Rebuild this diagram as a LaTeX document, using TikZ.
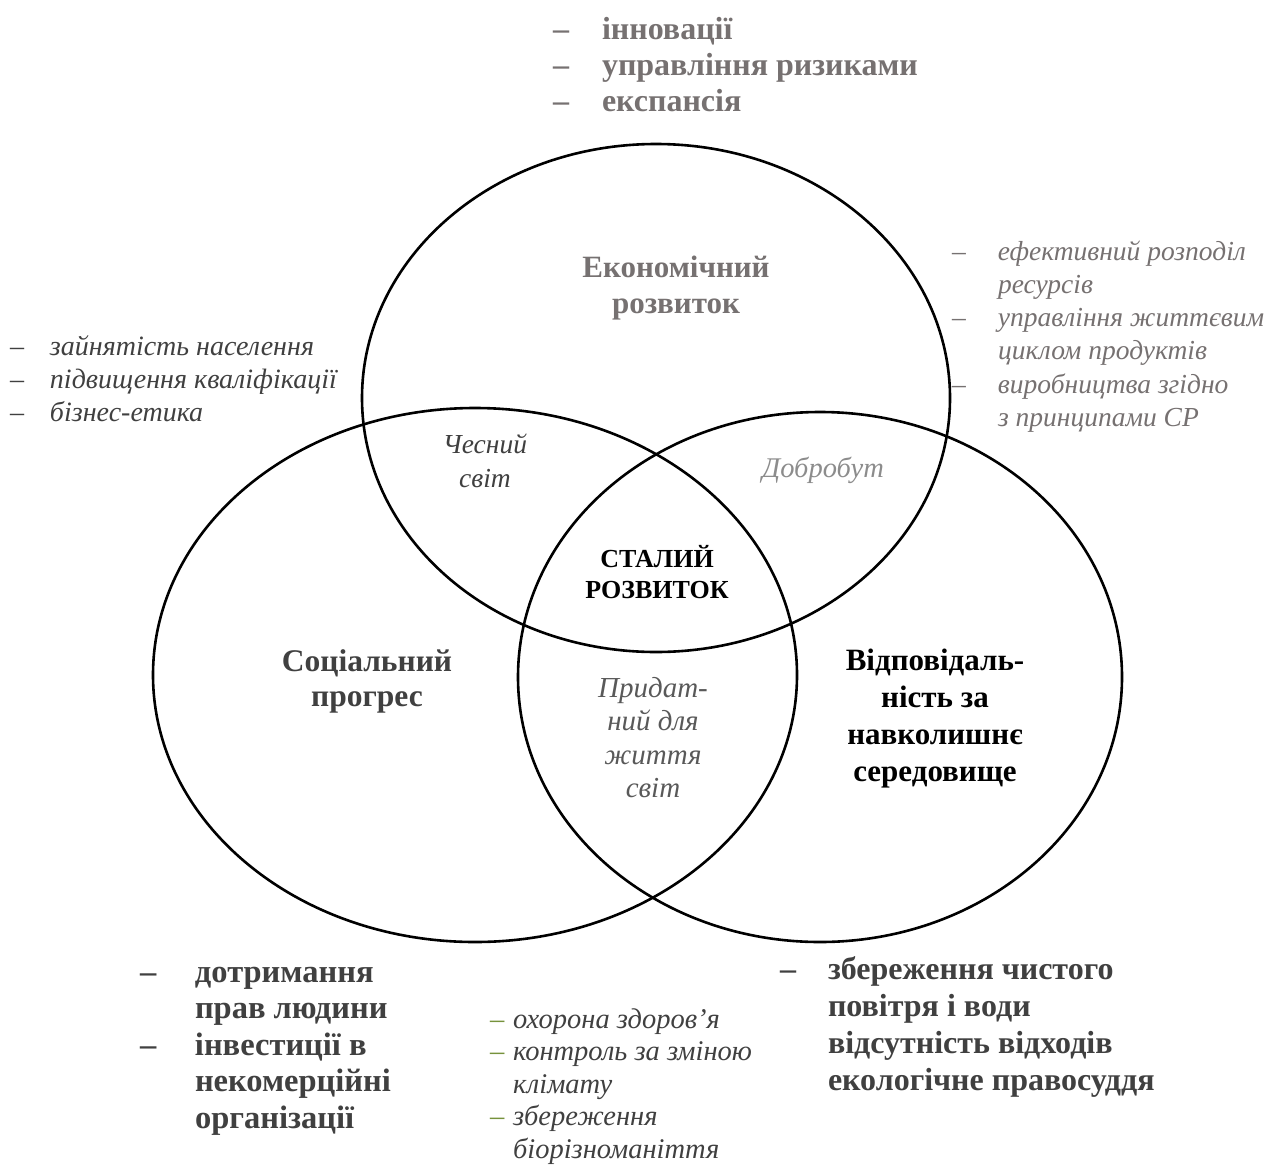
\documentclass[tikz,border=0pt]{standalone}
\usepackage{fontspec}
\setmainfont{Liberation Serif}
\definecolor{gA}{HTML}{767171}
\definecolor{gB}{HTML}{404040}
\definecolor{gC}{HTML}{8C8C8C}
\definecolor{gD}{HTML}{595959}
\definecolor{grn}{HTML}{76923C}
\newcommand{\myfs}[2]{\fontsize{#1}{#2}\selectfont}
\tikzset{
  lst/.style={anchor=base west, inner sep=0pt, outer sep=0pt},
  ctr/.style={anchor=base, inner sep=0pt, outer sep=0pt},
  ring/.style={line width=2.6pt, draw=black}
}
\begin{document}
\begin{tikzpicture}[x=1pt,y=-1pt]
\useasboundingbox (0,0) rectangle (1268,1167);
% circles
\draw[ring] (656,398) ellipse [x radius=294, y radius=254];
\draw[ring] (475,675) ellipse [x radius=322, y radius=267];
\draw[ring] (820,677) ellipse [x radius=302, y radius=265];

% top list
\node[lst, text=gA, font={\bfseries\myfs{32}{36}}] (toplist) at (553,39)
 {\begin{tabular}[t]{@{}p{49pt}@{}l@{}}–&інновації\\–&управління ризиками\\–&експансія\end{tabular}};
% economic
\node[ctr, text=gA, font={\bfseries\myfs{31}{36}}] (econ) at (676,277)
 {\begin{tabular}[t]{@{}c@{}}Економічний\\розвиток\end{tabular}};
% right list
\node[lst, text=gA, font={\itshape\myfs{27.5}{33.3}}] (rightlist) at (952,260)
 {\begin{tabular}[t]{@{}p{46pt}@{}l@{}}–&ефективний розподіл\\&ресурсів\\–&управління життєвим\\&циклом продуктів\\–&виробництва згідно\\&з принципами СР\end{tabular}};
% left list
\node[lst, text=gB, font={\itshape\myfs{28}{33.3}}] (leftlist) at (10,355)
 {\begin{tabular}[t]{@{}p{40pt}@{}l@{}}–&зайнятість населення\\–&підвищення кваліфікації\\–&бізнес-етика\end{tabular}};
% intersections
\node[ctr, text=gB, font={\itshape\myfs{27.5}{34}}] (fair) at (485,453)
 {\begin{tabular}[t]{@{}c@{}}Чесний\\світ\end{tabular}};
\node[ctr, text=gC, font={\itshape\myfs{28.5}{34}}] (wealth) at (823,477) {Добробут};
\node[ctr, text=black, font={\bfseries\myfs{26}{31}}] (sd) at (657,567)
 {\begin{tabular}[t]{@{}c@{}}СТАЛИЙ\\РОЗВИТОК\end{tabular}};
\node[ctr, text=gD, font={\itshape\myfs{29}{33.5}}] (live) at (653,697)
 {\begin{tabular}[t]{@{}c@{}}Придат-\\ний для\\життя\\світ\end{tabular}};
% social
\node[ctr, text=gB, font={\bfseries\myfs{31.5}{35}}] (social) at (367,671)
 {\begin{tabular}[t]{@{}c@{}}Соціальний\\прогрес\end{tabular}};
% environment
\node[ctr, text=black, font={\bfseries\myfs{31}{37.3}}] (env) at (935,670)
 {\begin{tabular}[t]{@{}c@{}}Відповідаль-\\ність за\\навколишнє\\середовище\end{tabular}};
% bottom-left list
\node[lst, text=gB, font={\bfseries\myfs{32.5}{36.5}}] (bllist) at (140,982)
 {\begin{tabular}[t]{@{}p{55pt}@{}l@{}}–&дотримання\\&прав людини\\–&інвестиції в\\&некомерційні\\&організації\end{tabular}};
% bottom-middle list
\node[lst, text=gB, font={\itshape\myfs{28.5}{32.5}}] (bmlist) at (490,1028)
 {\begin{tabular}[t]{@{}p{23pt}@{}l@{}}\textcolor{grn}{–}&охорона здоров’я\\\textcolor{grn}{–}&контроль за зміною\\&клімату\\\textcolor{grn}{–}&збереження\\&біорізноманіття\end{tabular}};
% bottom-right list
\node[lst, text=gB, font={\bfseries\myfs{32}{37}}] (brlist) at (780,979)
 {\begin{tabular}[t]{@{}p{48pt}@{}l@{}}–&збереження чистого\\&повітря і води\\&відсутність відходів\\&екологічне правосуддя\end{tabular}};
\end{tikzpicture}
\end{document}
